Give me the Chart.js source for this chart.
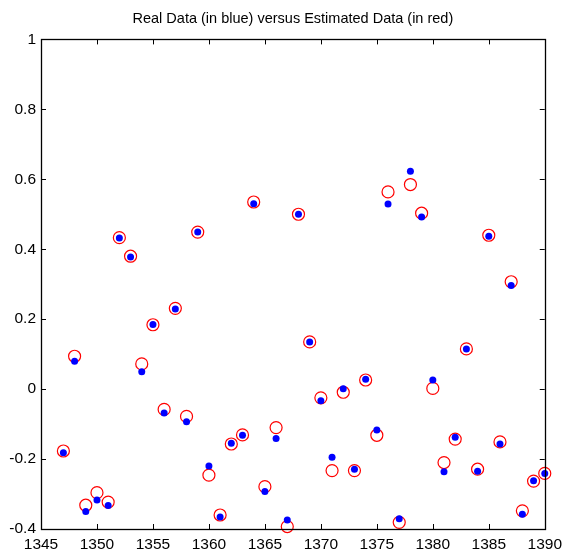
<!DOCTYPE html>
<html>
<head>
<meta charset="utf-8">
<script src="https://cdn.jsdelivr.net/npm/chart.js@4.4.1/dist/chart.umd.min.js"></script>
<style>
  body { margin: 0; background: #fff; }
  #wrap { width: 568px; height: 554px; }
</style>
</head>
<body>
<div id="wrap"><canvas id="grafico"></canvas></div>
<script>
// dados
const anos = [1347, 1348, 1349, 1350, 1351, 1352, 1353, 1354, 1355, 1356, 1357, 1358, 1359, 1360, 1361,
              1362, 1363, 1364, 1365, 1366, 1367, 1368, 1369, 1370, 1371, 1372, 1373, 1374, 1375, 1376,
              1377, 1378, 1379, 1380, 1381, 1382, 1383, 1384, 1385, 1386, 1387, 1388, 1389, 1390];

const real = [-0.182, 0.080, -0.350, -0.317, -0.333, 0.432, 0.378, 0.050, 0.185, -0.068, 0.229, -0.093, 0.449, -0.220, -0.366,
              -0.155, -0.132, 0.530, -0.293, -0.141, -0.374, 0.500, 0.135, -0.033, -0.195, 0.001, -0.229, 0.028, -0.117, 0.529,
              -0.371, 0.623, 0.492, 0.026, -0.236, -0.138, 0.115, -0.235, 0.437, -0.157, 0.296, -0.358, -0.262, -0.241];

const estimado = [-0.177, 0.094, -0.332, -0.296, -0.323, 0.433, 0.380, 0.072, 0.184, -0.058, 0.231, -0.078, 0.449, -0.246, -0.360,
                  -0.157, -0.131, 0.535, -0.279, -0.110, -0.393, 0.500, 0.135, -0.025, -0.233, -0.009, -0.233, 0.026, -0.132, 0.564,
                  -0.381, 0.585, 0.503, 0.002, -0.210, -0.143, 0.115, -0.229, 0.440, -0.151, 0.307, -0.348, -0.263, -0.241];

const ticksX = [1345, 1350, 1355, 1360, 1365, 1370, 1375, 1380, 1385, 1390];
const ticksY = [-0.4, -0.2, 0, 0.2, 0.4, 0.6, 0.8, 1];

const fonte = "'Liberation Sans', Arial, sans-serif";

// moldura com tracinhos para dentro (estilo matlab)
const moldura = {
    id: 'moldura',
    afterDatasetsDraw(chart) {
        const ctx = chart.ctx;
        const a = chart.chartArea;
        const sx = chart.scales.x;
        const sy = chart.scales.y;
        const tam = 5;
        ctx.save();
        ctx.strokeStyle = '#000';
        ctx.lineWidth = 1;
        ctx.beginPath();
        ticksX.forEach(function(v) {
            const px = Math.round(sx.getPixelForValue(v)) + 0.5;
            ctx.moveTo(px, a.bottom);
            ctx.lineTo(px, a.bottom - tam);
            ctx.moveTo(px, a.top);
            ctx.lineTo(px, a.top + tam);
        });
        ticksY.forEach(function(v) {
            const py = Math.round(sy.getPixelForValue(v)) + 0.5;
            ctx.moveTo(a.left, py);
            ctx.lineTo(a.left + tam, py);
            ctx.moveTo(a.right, py);
            ctx.lineTo(a.right - tam, py);
        });
        ctx.stroke();
        ctx.lineWidth = 1.3;
        ctx.strokeRect(Math.round(a.left) + 0.5, Math.round(a.top) + 0.5,
                       Math.round(a.right - a.left), Math.round(a.bottom - a.top));
        ctx.restore();
    }
};

const config = {
    type: 'scatter',
    data: {
        datasets: [
            {
                label: 'Real',
                data: anos.map(function(a, i) { return { x: a, y: real[i] }; }),
                backgroundColor: '#0000ff',
                borderColor: '#0000ff',
                borderWidth: 0,
                pointRadius: 3.5,
                clip: false
            },
            {
                label: 'Estimado',
                data: anos.map(function(a, i) { return { x: a, y: estimado[i] }; }),
                backgroundColor: 'rgba(0,0,0,0)',
                borderColor: '#ff0000',
                borderWidth: 1.2,
                pointRadius: 6,
                clip: false
            }
        ]
    },
    options: {
        responsive: false,
        animation: false,
        layout: { padding: { left: 0, right: 21, top: 0, bottom: 0 } },
        plugins: {
            legend: { display: false },
            tooltip: { enabled: false },
            title: {
                display: true,
                fullSize: false,
                text: 'Real Data (in blue) versus Estimated Data (in red)',
                color: '#000',
                font: { family: fonte, size: 14.5, weight: 'normal' },
                padding: { top: 10, bottom: 12 }
            }
        },
        scales: {
            x: {
                type: 'linear',
                min: 1345,
                max: 1390,
                afterBuildTicks: function(scale) {
                    scale.ticks = ticksX.map(function(v) { return { value: v }; });
                },
                afterFit: function(scale) { scale.height = 25; },
                grid: { display: false, drawTicks: false },
                border: { display: false },
                ticks: {
                    color: '#000',
                    padding: 6,
                    maxRotation: 0,
                    autoSkip: false,
                    font: { family: fonte, size: 15.5 },
                    callback: function(v) { return String(v); }
                }
            },
            y: {
                type: 'linear',
                min: -0.4,
                max: 1,
                afterBuildTicks: function(scale) {
                    scale.ticks = ticksY.map(function(v) { return { value: v }; });
                },
                afterFit: function(scale) { scale.width = 41; },
                grid: { display: false, drawTicks: false },
                border: { display: false },
                ticks: {
                    color: '#000',
                    padding: 5,
                    autoSkip: false,
                    font: { family: fonte, size: 15.5 },
                    callback: function(v) { return String(Number(v.toFixed(1))); }
                }
            }
        }
    },
    plugins: [moldura]
};

document.addEventListener('DOMContentLoaded', function() {
    const canvas = document.getElementById('grafico');
    canvas.width = 568;
    canvas.height = 554;
    new Chart(canvas.getContext('2d'), config);
});
</script>
</body>
</html>
